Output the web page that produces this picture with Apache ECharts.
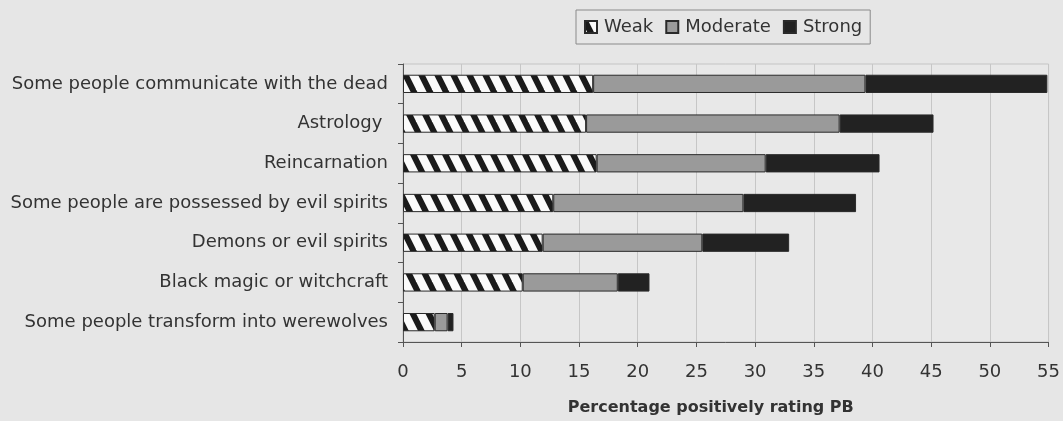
<!DOCTYPE html>
<html>
<head>
<meta charset="utf-8">
<script src="https://cdn.jsdelivr.net/npm/echarts@6/dist/echarts.min.js"></script>
<style>
  html, body { margin: 0; padding: 0; background: #e6e6e6; }
  #chart { width: 1063px; height: 421px; }
</style>
</head>
<body>
<div id="chart"></div>
<script>
// categories top to bottom
const categories = [
  'Some people communicate with the dead',
  'Astrology ',
  'Reincarnation',
  'Some people are possessed by evil spirits',
  'Demons or evil spirits',
  'Black magic or witchcraft',
  'Some people transform into werewolves'
]
const weak = [16.2, 15.6, 16.5, 12.8, 11.9, 10.2, 2.7]
const moderate = [23.2, 21.6, 14.4, 16.2, 13.6, 8.1, 1.1]
const strong = [15.5, 8.0, 9.7, 9.6, 7.4, 2.7, 0.5]
const xTicks = [0, 55, 5] // min, max, interval

// hatched fill for "Weak" (lines run past the tile so it tiles cleanly)
function stripes() {
  const c = document.createElement('canvas')
  c.width = 16
  c.height = 32
  const ctx = c.getContext('2d')
  ctx.fillStyle = '#fafafa'
  ctx.fillRect(0, 0, 16, 32)
  ctx.strokeStyle = '#1a1a1a'
  ctx.lineWidth = 6
  for (let k = -32; k <= 32; k += 16) {
    ctx.beginPath()
    ctx.moveTo(k - 8, -16)
    ctx.lineTo(k + 24, 48)
    ctx.stroke()
  }
  return c
}

const chart = echarts.init(document.getElementById('chart'))
const font = 'DejaVu Sans, Liberation Sans, sans-serif'

function bar(name, data, color) {
  return {
    name: name,
    type: 'bar',
    stack: 'pb',
    barWidth: '46%',
    data: data,
    itemStyle: { color: color, borderColor: '#2a2a2a', borderWidth: 1 }
  }
}

chart.setOption({
  backgroundColor: '#e6e6e6',
  animation: false,
  textStyle: { fontFamily: font },
  legend: {
    top: 10,
    left: 576,
    padding: [8, 8],
    itemGap: 12,
    itemWidth: 12,
    itemHeight: 12,
    borderColor: '#8a8a8a',
    borderWidth: 1,
    icon: 'rect',
    textStyle: { fontSize: 18, color: '#333', fontFamily: font, padding: [0, 0, 0, 2] },
    data: ['Weak', 'Moderate', 'Strong']
  },
  grid: {
    left: 403,
    right: 13,
    top: 64,
    bottom: 79,
    show: true,
    borderColor: '#c4c4c4',
    borderWidth: 1,
    backgroundColor: '#e8e8e8'
  },
  xAxis: {
    type: 'value',
    min: xTicks[0],
    max: xTicks[1],
    interval: xTicks[2],
    name: 'Percentage positively rating PB',
    nameLocation: 'middle',
    nameGap: 58,
    nameTextStyle: { fontSize: 16, fontWeight: 'bold', color: '#333', fontFamily: font, padding: [0, 30, 0, 0] },
    axisLine: { show: true, lineStyle: { color: '#555' } },
    axisTick: { show: true, length: 5, lineStyle: { color: '#555' } },
    axisLabel: { fontSize: 18, color: '#333', margin: 21 },
    splitLine: { lineStyle: { color: '#c6c6c6' } }
  },
  yAxis: {
    type: 'category',
    data: categories,
    inverse: true,
    axisLine: { lineStyle: { color: '#555' } },
    axisTick: { show: true, length: 5, lineStyle: { color: '#555' } },
    axisLabel: { fontSize: 18, color: '#333', margin: 15 }
  },
  series: [
    bar('Weak', weak, { image: stripes(), repeat: 'repeat' }),
    bar('Moderate', moderate, '#9a9a9a'),
    bar('Strong', strong, '#222')
  ]
})
</script>
</body>
</html>
